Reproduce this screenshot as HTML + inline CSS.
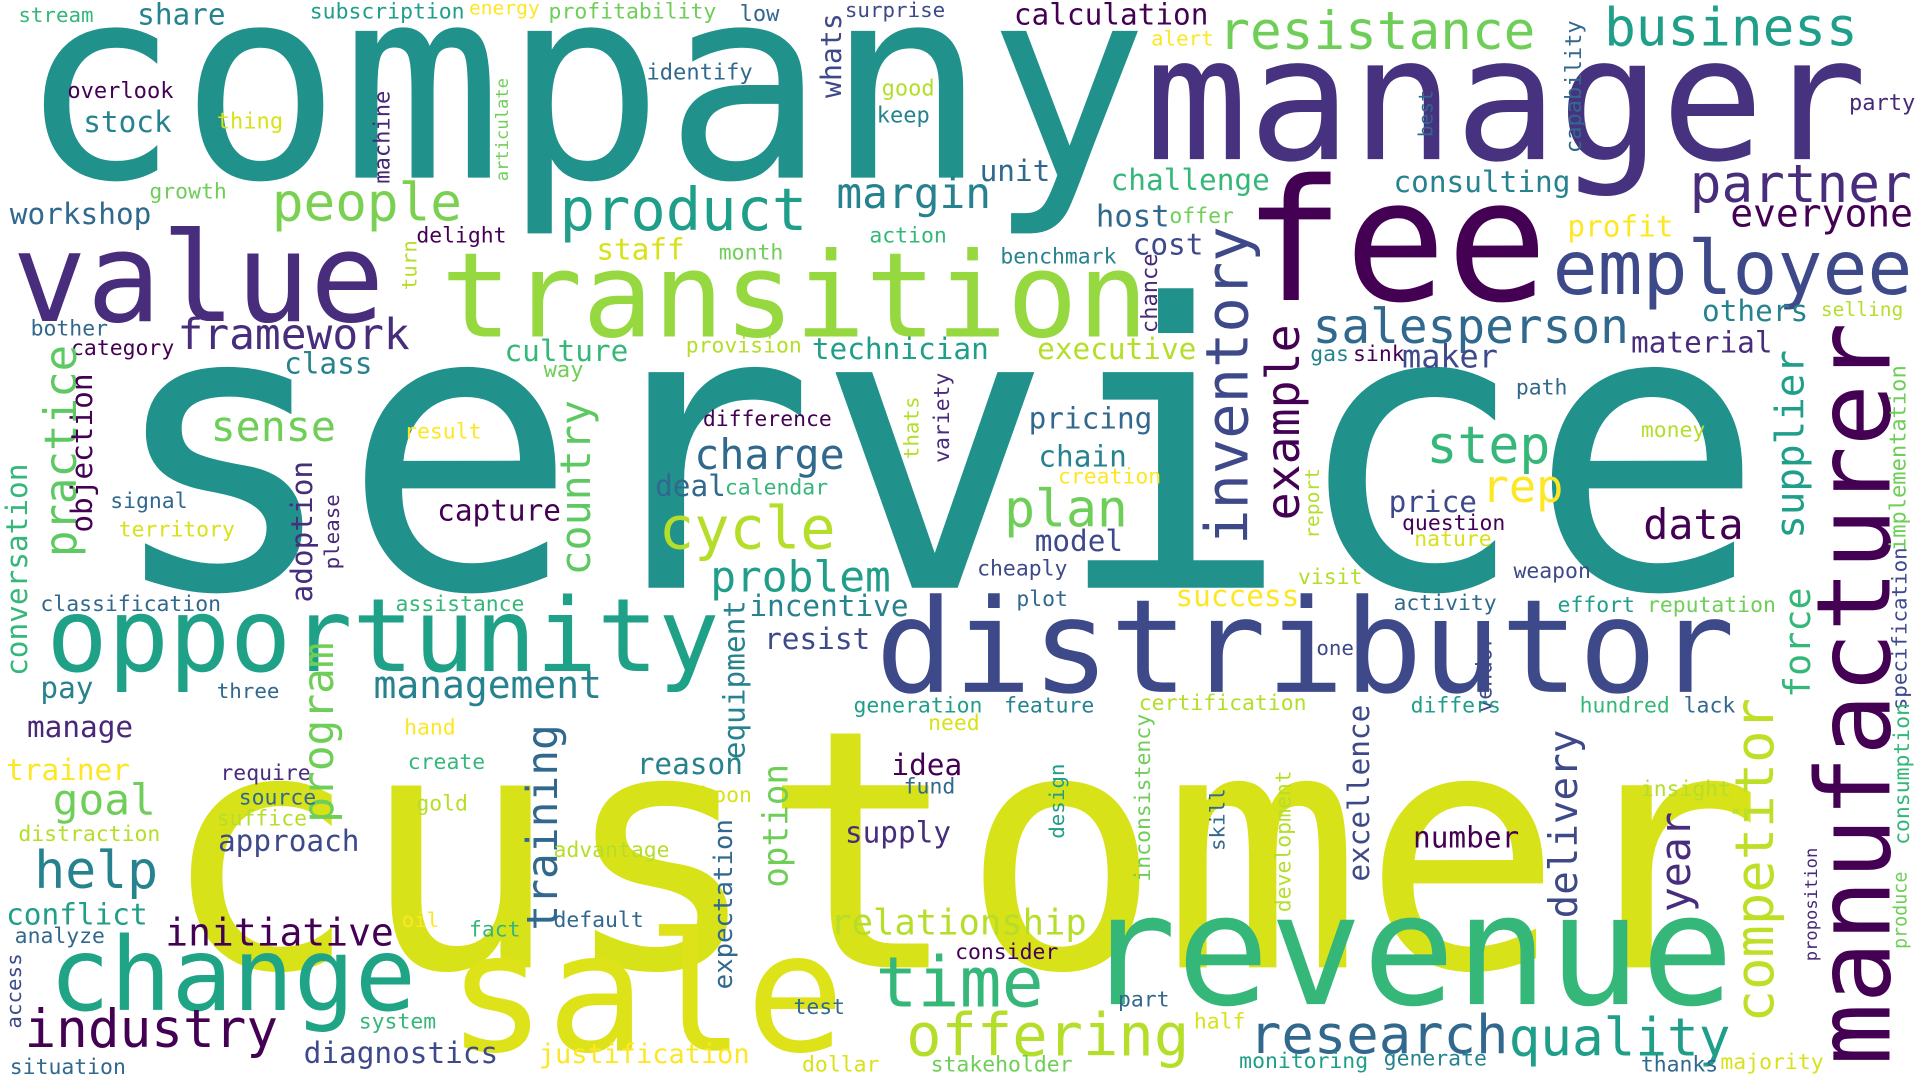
<!DOCTYPE html>
<html><head><meta charset="utf-8"><style>
html,body{margin:0;padding:0;background:#fff;width:1920px;height:1080px;overflow:hidden}
svg{display:block}
text{font-family:"DejaVu Sans Mono","Liberation Mono",monospace;}
</style></head><body>
<svg id="cloud" width="1920" height="1080" viewBox="0 0 1568 882" preserveAspectRatio="none" xmlns="http://www.w3.org/2000/svg">
<rect width="1568" height="882" fill="#ffffff"/>
</svg>
<script>
// rows: [word, x, baselineY, fontSize, color, rotated]
const rows = [
["service",85,480,322,"#21918c",0],
["company",15,145,219,"#21918c",0],
["customer",130,790,272,"#d8e219",0],
["manager",935,130,140,"#46327e",0],
["fee",1015,245,138,"#440154",0],
["transition",360,275,96,"#95d840",0],
["value",10,262,101,"#472d7b",0],
["opportunity",38,548,83,"#1fa187",0],
["distributor",715,565,106,"#3e4989",0],
["revenue",885,820,126,"#35b779",0],
["sale",365,858,135,"#dde318",0],
["change",40,825,83,"#20a486",0],
["manufacturer",1543,870,84,"#440154",1],
["stream",15,18,17,"#35b779",0],
["share",112,20,24,"#26828e",0],
["subscription",253,15,17.5,"#1f9e89",0],
["energy",383,12,16,"#fde725",0],
["profitability",448,15,17.5,"#6ece58",0],
["low",604,17,18,"#31688e",0],
["surprise",690,14,17,"#3e4989",0],
["calculation",828,20,24,"#440154",0],
["resistance",995,40,43,"#6ece58",0],
["business",1310,37,43,"#1f9e89",0],
["alert",940,37,17,"#fde725",0],
["overlook",55,80,18,"#440154",0],
["identify",528,65,18,"#31688e",0],
["whats",687,80,23,"#3e4989",1],
["stock",68,108,24,"#26828e",0],
["thing",177,105,18,"#d8e219",0],
["good",720,78,18,"#b5de2b",0],
["keep",716,100,18,"#26828e",0],
["machine",318,150,18,"#482878",1],
["articulate",415,148,14,"#6ece58",1],
["capability",1291,125,18,"#31688e",1],
["best",1170,112,16,"#31688e",1],
["party",1510,90,18,"#482878",0],
["workshop",8,183,24,"#31688e",0],
["growth",122,162,17.5,"#6ece58",0],
["people",222,180,43,"#7ad151",0],
["product",457,188,48,"#1f9e89",0],
["margin",683,170,35,"#26828e",0],
["unit",800,148,24,"#31688e",0],
["challenge",907,155,24,"#35b779",0],
["consulting",1138,157,24,"#26828e",0],
["partner",1380,165,43,"#472d7b",0],
["everyone",1413,185,31,"#440154",0],
["delight",340,198,17.5,"#440154",0],
["action",710,198,17.5,"#35b779",0],
["host",895,185,25,"#31688e",0],
["offer",955,182,17.5,"#6ece58",0],
["profit",1280,193,24,"#fde725",0],
["staff",487,212,24,"#d8e219",0],
["month",587,212,17.5,"#6ece58",0],
["turn",340,237,17,"#b5de2b",1],
["benchmark",817,215,17.5,"#26828e",0],
["cost",925,208,24,"#3e4989",0],
["employee",1268,240,61,"#3e4989",0],
["inventory",1019,445,48,"#3e4989",1],
["chance",945,272,18,"#482878",1],
["bother",25,274,17.5,"#31688e",0],
["category",58,290,17.5,"#440154",0],
["framework",145,285,35,"#472d7b",0],
["class",232,305,24,"#26828e",0],
["practice",62,455,36,"#5ec962",1],
["objection",75,435,24,"#440154",1],
["culture",412,295,24,"#35b779",0],
["way",444,308,18,"#6ece58",0],
["provision",560,288,17.5,"#b5de2b",0],
["technician",663,293,24,"#1f9e89",0],
["executive",847,293,24,"#b5de2b",0],
["salesperson",1072,280,39,"#31688e",0],
["others",1390,262,24,"#26828e",0],
["selling",1487,258,16,"#b5de2b",0],
["material",1332,288,24,"#472d7b",0],
["gas",1070,295,17.5,"#26828e",0],
["sink",1105,295,17.5,"#440154",0],
["maker",1145,300,26,"#3e4989",0],
["path",1238,322,17.5,"#31688e",0],
["supplier",1473,440,32,"#1f9e89",1],
["implementation",1556,450,18,"#6ece58",1],
["example",1061,425,38,"#440154",1],
["sense",172,360,34,"#6ece58",0],
["result",330,358,17.5,"#fde725",0],
["difference",574,348,17.5,"#440154",0],
["country",482,470,34,"#5ec962",1],
["charge",567,383,34,"#31688e",0],
["thats",750,375,17,"#b5de2b",1],
["variety",775,378,17.5,"#472d7b",1],
["pricing",840,350,24,"#31688e",0],
["chain",848,381,24,"#26828e",0],
["creation",864,395,17.5,"#fde725",0],
["step",1165,378,42,"#35b779",0],
["money",1340,357,17.5,"#b5de2b",0],
["rep",1210,410,37,"#fde725",0],
["signal",90,415,17.5,"#31688e",0],
["territory",97,438,17.5,"#d8e219",0],
["adoption",255,492,24,"#472d7b",1],
["please",277,465,17,"#482878",1],
["capture",357,425,24,"#440154",0],
["deal",535,405,24,"#31688e",0],
["calendar",592,404,17.5,"#35b779",0],
["plan",820,430,42,"#6ece58",0],
["cycle",538,448,48,"#b5de2b",0],
["conversation",22,552,24,"#35b779",1],
["model",845,450,24,"#3e4989",0],
["report",1077,440,16,"#b5de2b",1],
["price",1134,418,24,"#3e4989",0],
["question",1145,433,17.5,"#440154",0],
["nature",1155,446,17.5,"#d8e219",0],
["data",1342,440,34,"#440154",0],
["specification",1557,580,17,"#3e4989",1],
["problem",580,483,35,"#1f9e89",0],
["cheaply",798,470,17.5,"#3e4989",0],
["success",960,495,24,"#fde725",0],
["visit",1060,477,17.5,"#b5de2b",0],
["weapon",1236,472,17.5,"#3e4989",0],
["force",1478,570,30,"#35b779",1],
["classification",33,499,17.5,"#31688e",0],
["assistance",323,499,17.5,"#35b779",0],
["incentive",612,503,24,"#26828e",0],
["plot",830,495,17.5,"#31688e",0],
["activity",1138,498,17.5,"#31688e",0],
["effort",1272,500,17.5,"#1f9e89",0],
["reputation",1345,500,17.5,"#6ece58",0],
["resist",624,530,24,"#3e4989",0],
["equipment",608,620,24,"#26828e",1],
["one",1075,535,17,"#3e4989",0],
["vendor",1218,582,17.5,"#3e4989",1],
["pay",33,570,24,"#26828e",0],
["three",177,570,17,"#31688e",0],
["program",272,672,35,"#6ece58",1],
["management",305,570,31,"#26828e",0],
["generation",697,582,17.5,"#1f9e89",0],
["feature",820,582,17.5,"#26828e",0],
["certification",930,580,17.5,"#b5de2b",0],
["excellence",1118,720,24,"#3e4989",1],
["differs",1152,582,17.5,"#1f9e89",0],
["hundred",1290,582,17.5,"#35b779",0],
["lack",1375,582,17.5,"#31688e",0],
["competitor",1448,835,44,"#bddf26",1],
["consumption",1559,690,17.5,"#35b779",1],
["need",758,596,17.5,"#d8e219",0],
["manage",22,602,24,"#482878",0],
["hand",330,600,17.5,"#fde725",0],
["training",455,760,35,"#31688e",1],
["delivery",1288,750,32,"#3e4989",1],
["year",1380,745,34,"#472d7b",1],
["trainer",5,637,24,"#fde725",0],
["require",180,637,17.5,"#472d7b",0],
["create",333,628,17.5,"#35b779",0],
["reason",520,632,24,"#26828e",0],
["idea",728,633,24,"#440154",0],
["fund",738,648,17.5,"#31688e",0],
["design",869,685,17,"#1f9e89",1],
["inconsistency",939,720,17.5,"#6ece58",1],
["skill",1000,695,17,"#31688e",1],
["development",1054,745,17.5,"#b5de2b",1],
["insight",1340,650,17.5,"#b5de2b",0],
["goal",43,665,35,"#6ece58",0],
["source",195,657,17.5,"#31688e",0],
["suffice",177,674,17.5,"#b5de2b",0],
["gold",340,662,17.5,"#b5de2b",0],
["boon",572,655,17.5,"#d8e219",0],
["option",643,725,28,"#6ece58",1],
["supply",690,688,24,"#472d7b",0],
["number",1154,692,24,"#440154",0],
["distraction",15,687,17.5,"#b5de2b",0],
["approach",178,695,24,"#3e4989",0],
["expectation",598,808,21,"#31688e",1],
["advantage",452,700,17.5,"#b5de2b",0],
["help",28,725,42,"#26828e",0],
["proposition",1484,785,14,"#482878",1],
["produce",1557,775,15,"#6ece58",1],
["conflict",5,755,24,"#1f9e89",0],
["initiative",135,772,31,"#440154",0],
["oil",328,757,17,"#fde725",0],
["default",452,757,17.5,"#31688e",0],
["relationship",678,763,29,"#b5de2b",0],
["fact",383,765,17.5,"#35b779",0],
["analyze",12,770,17.5,"#31688e",0],
["consider",780,783,17.5,"#440154",0],
["access",17,840,17,"#3e4989",1],
["time",715,822,57,"#35b779",0],
["part",913,822,17.5,"#31688e",0],
["system",293,840,17.5,"#35b779",0],
["industry",20,855,43,"#440154",0],
["test",648,828,17.5,"#31688e",0],
["half",975,840,17.5,"#d8e219",0],
["research",1020,860,44,"#31688e",0],
["quality",1232,862,43,"#1f9e89",0],
["offering",740,862,48,"#b5de2b",0],
["diagnostics",248,868,24,"#3e4989",0],
["justification",440,868,22,"#fde725",0],
["dollar",655,875,17.5,"#d8e219",0],
["stakeholder",760,875,17.5,"#6ece58",0],
["monitoring",1012,872,17.5,"#1f9e89",0],
["generate",1130,870,17.5,"#26828e",0],
["thanks",1340,875,17.5,"#31688e",0],
["majority",1405,873,17.5,"#d8e219",0],
["situation",8,877,17.5,"#31688e",0]
];
const words = rows.map(r => r[0]);
const weights = rows.map(r => r[3]);
const colors = rows.map(r => r[4]);
const orientations = rows.map(r => r[5]);
const anchorX = rows.map(r => r[1]);
const anchorY = rows.map(r => r[2]);

const svg = document.getElementById('cloud');
const NS = 'http://www.w3.org/2000/svg';
words.forEach((w, i) => {
  const t = document.createElementNS(NS, 'text');
  
  
  t.setAttribute('x', anchorX[i]);
  t.setAttribute('y', anchorY[i]);
  t.setAttribute('font-size', weights[i]);
  t.setAttribute('fill', colors[i]);
  t.setAttribute('textLength', (weights[i] * 0.602 * w.length).toFixed(1));
  t.setAttribute('lengthAdjust', 'spacingAndGlyphs');
  if (orientations[i]) t.setAttribute('transform', 'rotate(-90 ' + anchorX[i] + ' ' + anchorY[i] + ')');
  t.textContent = w;
  svg.appendChild(t);
});
</script>
</body></html>
